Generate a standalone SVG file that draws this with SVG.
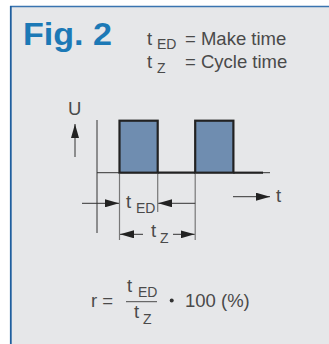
<svg xmlns="http://www.w3.org/2000/svg" width="329" height="344" viewBox="0 0 329 344">
<defs>
<style>
.t{font-family:"Liberation Sans",Arial,sans-serif;fill:#4a4a4a;font-size:18.5px}
.s{font-size:14px}
.thin{stroke:#333;stroke-width:1;fill:none}
.gray{stroke:#777;stroke-width:1.2;fill:none}
.thick{stroke:#222;stroke-width:2.2;fill:none}
.pulse{fill:#6f8db0;stroke:#222;stroke-width:2.2}
</style>
<marker id="ah" viewBox="0 0 14 8" refX="14" refY="4" markerWidth="14" markerHeight="8" markerUnits="userSpaceOnUse" orient="auto">
<path d="M0,0 L14,4 L0,8 Z" fill="#222"/>
</marker>
</defs>
<rect x="0" y="0" width="329" height="344" fill="#ffffff"/>
<g id="frame">
<rect x="11" y="7" width="318" height="337" fill="#e6e7e9"/>
<line x1="10" y1="6.5" x2="329" y2="6.5" stroke="#3a74b0" stroke-width="1.5"/>
<line x1="10.8" y1="6" x2="10.8" y2="344" stroke="#1f5f9f" stroke-width="1.8"/>
</g>
<g id="title">
<text x="23" y="45" font-family="Liberation Sans,Arial,sans-serif" font-weight="bold" font-size="31" fill="#1c79b6" textLength="89" lengthAdjust="spacingAndGlyphs">Fig. 2</text>
</g>
<g id="legend">
<text class="t" x="147" y="45">t<tspan class="s" x="157" y="48.5">ED</tspan></text>
<text class="t" x="185" y="45">= Make time</text>
<text class="t" x="147" y="68">t<tspan class="s" x="157" y="73">Z</tspan></text>
<text class="t" x="185" y="68">= Cycle time</text>
</g>
<g id="axes">
<text class="t" x="68" y="115" fill="#333">U</text>
<line class="thin" x1="75" y1="157" x2="75" y2="124" marker-end="url(#ah)"/>
<line class="thin" x1="97" y1="120" x2="97" y2="233"/>
<line class="thin" x1="97" y1="172.7" x2="120" y2="172.7"/>
<line class="thin" x1="262" y1="172.7" x2="270" y2="172.7"/>
<line class="thin" x1="233" y1="196.7" x2="270" y2="196.7" marker-end="url(#ah)"/>
<text class="t" x="276" y="202" fill="#333">t</text>
</g>
<g id="pulses">
<rect class="pulse" x="119.5" y="120.7" width="38.2" height="52"/>
<rect class="pulse" x="195.2" y="120.7" width="38.2" height="52"/>
<line class="thick" x1="157.7" y1="172.7" x2="195.2" y2="172.7"/>
<line class="thick" x1="233.4" y1="172.7" x2="263" y2="172.7"/>
</g>
<g id="connectors">
<line class="gray" x1="119.5" y1="174" x2="119.5" y2="240"/>
<line class="gray" x1="157.7" y1="174" x2="157.7" y2="212"/>
<line class="gray" x1="195.2" y1="174" x2="195.2" y2="240"/>
<line class="thin" x1="82" y1="203.3" x2="119" y2="203.3" marker-end="url(#ah)"/>
<line class="thin" x1="195.2" y1="203.3" x2="158.2" y2="203.3" marker-end="url(#ah)"/>
<line class="thin" x1="143" y1="234.3" x2="120" y2="234.3" marker-end="url(#ah)"/>
<line class="thin" x1="173" y1="234.3" x2="194.7" y2="234.3" marker-end="url(#ah)"/>
</g>
<g id="dimlabels">
<text class="t" x="126" y="208" fill="#333">t<tspan class="s" x="136" y="213">ED</tspan></text>
<text class="t" x="151" y="237" fill="#333">t<tspan class="s" x="160" y="243">Z</tspan></text>
</g>
<g id="formula">
<text class="t" x="91" y="307">r =</text>
<line x1="126" y1="301.7" x2="157" y2="301.7" stroke="#4a4a4a" stroke-width="1"/>
<text class="t" x="127" y="292">t<tspan class="s" x="138" y="296.5">ED</tspan></text>
<text class="t" x="134" y="318">t<tspan class="s" x="143" y="324">Z</tspan></text>
<circle cx="171.7" cy="300.5" r="2" fill="#333"/>
<text class="t" x="185" y="307">100 (%)</text>
</g>
</svg>
